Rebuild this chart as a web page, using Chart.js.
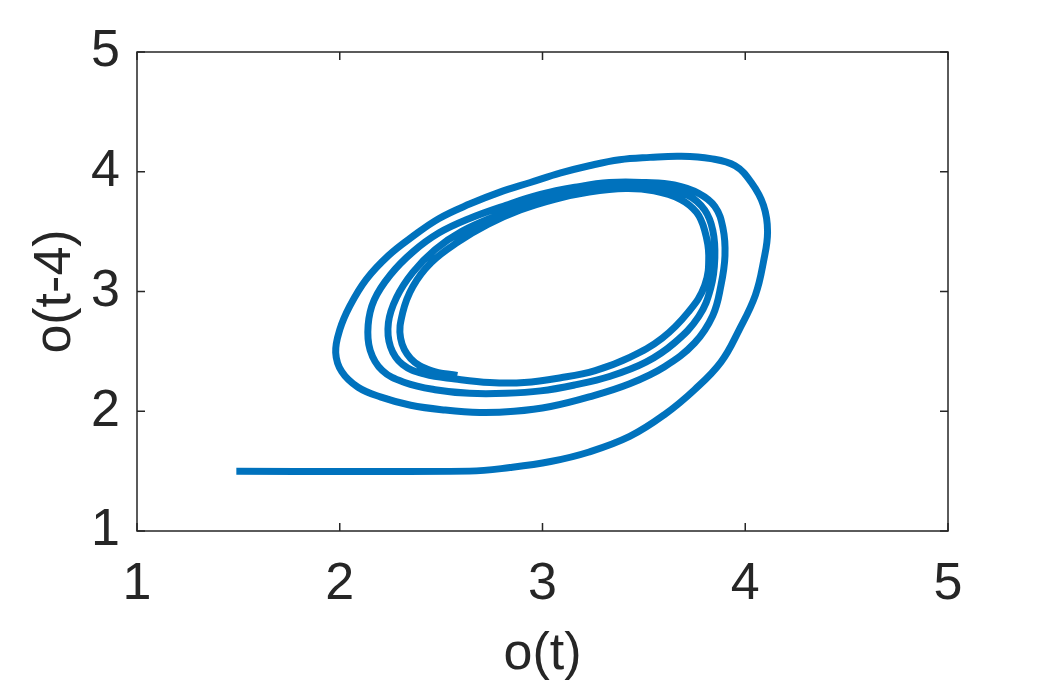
<!DOCTYPE html>
<html>
<head>
<meta charset="utf-8">
<script src="https://cdn.jsdelivr.net/npm/chart.js@4/dist/chart.umd.min.js"></script>
<style>
  html, body { margin: 0; padding: 0; background: #fff; }
  #wrap { width: 1047px; height: 688px; position: relative; }
</style>
</head>
<body>
<div id="wrap"><canvas id="phase"></canvas></div>
<script>
// trajectory: o(t) against o(t-4)
const oT = [
  1.49, 2.64, 2.84, 3.04, 3.23, 3.43, 3.60, 3.75, 3.88, 3.97, 4.05, 4.09, 4.11, 4.09, 4.03, 3.95,
  3.83, 3.68, 3.53, 3.38, 3.23, 3.09, 2.94, 2.79, 2.64, 2.49, 2.36, 2.24, 2.13, 2.05, 2.00, 1.98,
  2.01, 2.09, 2.20, 2.35, 2.52, 2.69, 2.86, 3.04, 3.23, 3.43, 3.60, 3.75, 3.84, 3.88, 3.90, 3.89,
  3.85, 3.77, 3.65, 3.51, 3.33, 3.16, 2.99, 2.82, 2.64, 2.49, 2.36, 2.25, 2.17, 2.14, 2.15, 2.21,
  2.32, 2.47, 2.64, 2.82, 2.99, 3.16, 3.33, 3.51, 3.65, 3.77, 3.83, 3.85, 3.84, 3.80, 3.72, 3.60,
  3.46, 3.28, 3.11, 2.94, 2.77, 2.60, 2.47, 2.36, 2.28, 2.24, 2.25, 2.31, 2.42, 2.57, 2.74, 2.91,
  3.09, 3.26, 3.43, 3.59, 3.72, 3.80, 3.82, 3.80, 3.76, 3.68, 3.55, 3.41, 3.23, 3.06, 2.89, 2.73,
  2.58, 2.45, 2.36, 2.31, 2.30, 2.35, 2.45, 2.58
];
const oTm4 = [
  1.50, 1.50, 1.53, 1.58, 1.66, 1.79, 1.97, 2.18, 2.41, 2.68, 2.97, 3.25, 3.50, 3.72, 3.91, 4.05,
  4.11, 4.13, 4.12, 4.10, 4.05, 3.99, 3.91, 3.83, 3.73, 3.61, 3.46, 3.30, 3.10, 2.88, 2.68, 2.49,
  2.33, 2.20, 2.12, 2.05, 2.01, 1.99, 2.00, 2.04, 2.12, 2.23, 2.37, 2.57, 2.80, 3.05, 3.30, 3.53,
  3.71, 3.82, 3.89, 3.91, 3.91, 3.87, 3.81, 3.72, 3.61, 3.49, 3.33, 3.14, 2.93, 2.72, 2.51, 2.34,
  2.24, 2.18, 2.15, 2.15, 2.17, 2.22, 2.29, 2.41, 2.57, 2.79, 3.03, 3.28, 3.51, 3.68, 3.80, 3.86,
  3.89, 3.87, 3.82, 3.74, 3.63, 3.50, 3.35, 3.16, 2.95, 2.74, 2.54, 2.39, 2.31, 2.27, 2.24, 2.24,
  2.28, 2.34, 2.45, 2.61, 2.83, 3.05, 3.30, 3.51, 3.66, 3.77, 3.84, 3.86, 3.83, 3.77, 3.68, 3.56,
  3.41, 3.24, 3.04, 2.82, 2.61, 2.44, 2.34, 2.30
];
const tickVals = [1, 2, 3, 4, 5];
const xTitle = "o(t)";
const yTitle = "o(t-4)";

const pts = oT.map((v, i) => ({ x: v, y: oTm4[i] }));
const ink = "#262626";
const fontFam = "'Liberation Sans', Arial, sans-serif";

// box round the plot with small inward ticks on all four sides
const frame = {
  id: "frame",
  afterDraw(chart) {
    const c = chart.ctx;
    const a = chart.chartArea;
    const sx = chart.scales.x, sy = chart.scales.y;
    c.save();
    c.strokeStyle = ink;
    c.lineWidth = 1.5;
    c.strokeRect(a.left, a.top, a.right - a.left, a.bottom - a.top);
    c.beginPath();
    tickVals.forEach(v => {
      const px = sx.getPixelForValue(v);
      c.moveTo(px, a.bottom); c.lineTo(px, a.bottom - 8);
      c.moveTo(px, a.top); c.lineTo(px, a.top + 8);
      const py = sy.getPixelForValue(v);
      c.moveTo(a.left, py); c.lineTo(a.left + 8, py);
      c.moveTo(a.right, py); c.lineTo(a.right - 8, py);
    });
    c.stroke();
    c.restore();
  }
};

new Chart(document.getElementById("phase"), {
  type: "scatter",
  data: {
    datasets: [{
      data: pts,
      showLine: true,
      borderColor: "#0072BD",
      borderWidth: 7,
      pointRadius: 0,
      tension: 0.4,
      fill: false
    }]
  },
  options: {
    responsive: true,
    maintainAspectRatio: false,
    animation: false,
    layout: { padding: { top: 52, right: 99, left: 0, bottom: 0 } },
    plugins: { legend: { display: false }, tooltip: { enabled: false } },
    scales: {
      x: {
        type: "linear",
        min: 1, max: 5,
        afterBuildTicks: s => { s.ticks = tickVals.map(v => ({ value: v })); },
        afterFit: s => { s.height = 157; },
        grid: { display: false, drawTicks: false },
        border: { display: false },
        ticks: { color: ink, padding: 22, font: { family: fontFam, size: 52 } },
        title: {
          display: true, text: xTitle, color: ink,
          font: { family: fontFam, size: 52 },
          padding: { top: 0, bottom: 2 }
        }
      },
      y: {
        type: "linear",
        min: 1, max: 5,
        afterBuildTicks: s => { s.ticks = tickVals.map(v => ({ value: v })); },
        afterFit: s => { s.width = 137; },
        grid: { display: false, drawTicks: false },
        border: { display: false },
        ticks: { color: ink, padding: 17, font: { family: fontFam, size: 52 } },
        title: {
          display: true, text: yTitle, color: ink,
          font: { family: fontFam, size: 52 },
          padding: { top: 24, bottom: 0 }
        }
      }
    }
  },
  plugins: [frame]
});
</script>
</body>
</html>
